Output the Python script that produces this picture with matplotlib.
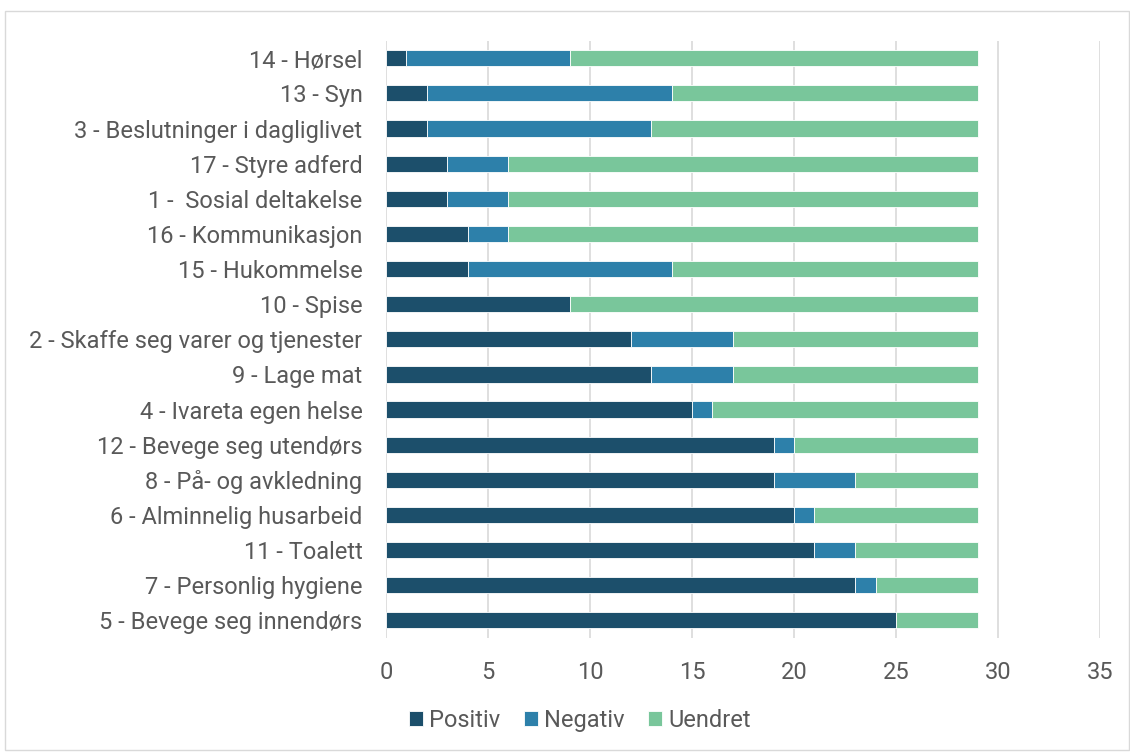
import matplotlib.pyplot as plt
import numpy as np
from matplotlib.patches import Rectangle

plt.rcParams['font.family'] = ['Roboto', 'DejaVu Sans']

categories = ['14 - Hørsel', '13 - Syn', '3 - Beslutninger i dagliglivet',
              '17 - Styre adferd', '1 -  Sosial deltakelse', '16 - Kommunikasjon',
              '15 - Hukommelse', '10 - Spise', '2 - Skaffe seg varer og tjenester',
              '9 - Lage mat', '4 - Ivareta egen helse', '12 - Bevege seg utendørs',
              '8 - På- og avkledning', '6 - Alminnelig husarbeid', '11 - Toalett',
              '7 - Personlig hygiene', '5 - Bevege seg innendørs']
positiv = [1, 2, 2, 3, 3, 4, 4, 9, 12, 13, 15, 19, 19, 20, 21, 23, 25]
negativ = [8, 12, 11, 3, 3, 2, 10, 0, 5, 4, 1, 1, 4, 1, 2, 1, 0]
uendret = [20, 15, 16, 23, 23, 23, 15, 20, 12, 12, 13, 9, 6, 8, 6, 5, 4]

colors = ['#1c4f6b', '#2d80aa', '#79c69b']
text_col = '#595959'

fig = plt.figure(figsize=(11.3, 7.54), dpi=100)
fig.patches.append(Rectangle((0.004, 0.005), 0.995, 0.981, transform=fig.transFigure,
                             fill=False, edgecolor='#d9d9d9', linewidth=1))
ax = fig.add_axes([0.3416, 0.154, 0.6319, 0.792])

y = np.arange(len(categories))[::-1]
pos = np.array(positiv)
neg = np.array(negativ)
uen = np.array(uendret)
h = 0.46
ax.barh(y, pos, height=h, color=colors[0], edgecolor='white', linewidth=0.6, label='Positiv')
ax.barh(y, neg, left=pos, height=h, color=colors[1], edgecolor='white', linewidth=0.6, label='Negativ')
ax.barh(y, uen, left=pos + neg, height=h, color=colors[2], edgecolor='white', linewidth=0.6, label='Uendret')

ax.set_xlim(0, 35)
ax.set_ylim(-0.5, len(categories) - 0.5)
ax.set_xticks(range(0, 36, 5))
ax.set_yticks(y)
ax.set_yticklabels(categories)
ax.tick_params(axis='both', length=0, labelsize=17, labelcolor=text_col)
ax.tick_params(axis='x', pad=17)
ax.tick_params(axis='y', pad=17)
ax.grid(axis='x', color='#d9d9d9', linewidth=1.2)
ax.set_axisbelow(True)
for s in ax.spines.values():
    s.set_visible(False)

fig.legend(loc='center', bbox_to_anchor=(0.513, 0.045), ncol=3, frameon=False,
           fontsize=17, labelcolor=text_col, handlelength=0.6, handleheight=0.6,
           handletextpad=0.25, columnspacing=1.0)

fig.savefig('out.png', dpi=100)
